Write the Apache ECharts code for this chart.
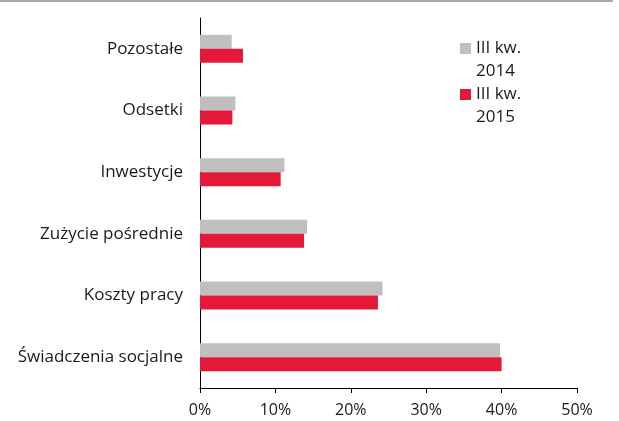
<!DOCTYPE html>
<html><head><meta charset="utf-8">
<script src="https://cdn.jsdelivr.net/npm/echarts@6/dist/echarts.min.js"></script>
<style>html,body{margin:0;padding:0;background:#fff}#c{width:619px;height:421px}</style>
</head><body><div id="c"></div>
<script>
const categories = ['Pozostałe', 'Odsetki', 'Inwestycje', 'Zużycie pośrednie', 'Koszty pracy', 'Świadczenia socjalne'];
const series2014 = [4.2, 4.7, 11.2, 14.2, 24.2, 39.8];
const series2015 = [5.7, 4.3, 10.7, 13.8, 23.6, 40.0];
const seriesNames = ['III kw.\n2014', 'III kw.\n2015'];
const xTicks = [0, 10, 20, 30, 40, 50];

const font = '"Open Sans", sans-serif';
const legendIcon = 'path://M0,0h11v11h-11zM0,33.99h0.01v0.01h-0.01z';
const chart = echarts.init(document.getElementById('c'));
chart.setOption({
  animation: false,
  graphic: [{type: 'rect', shape: {x: 0, y: 0, width: 613, height: 2}, style: {fill: '#aaaaaa'}}],
  legend: {
    orient: 'vertical', left: 455, top: 32, itemWidth: 11, itemHeight: 34, itemGap: 0,
    icon: legendIcon,
    textStyle: {fontFamily: font, fontSize: 17, color: '#1a1a1a', lineHeight: 23}
  },
  grid: {left: 200, right: 42, top: 18, bottom: 33, containLabel: false},
  xAxis: {
    type: 'value', min: xTicks[0], max: xTicks[xTicks.length - 1], interval: 10,
    axisLine: {show: true, lineStyle: {color: '#000', width: 1}},
    axisTick: {show: true, length: 5, lineStyle: {color: '#000'}},
    splitLine: {show: false},
    axisLabel: {formatter: '{value}%', margin: 14, fontFamily: font, fontSize: 16, color: '#1a1a1a'}
  },
  yAxis: {
    type: 'category', data: categories, inverse: true,
    axisLine: {show: true, lineStyle: {color: '#000', width: 1}},
    axisTick: {show: false},
    axisLabel: {margin: 17, fontFamily: font, fontSize: 17, color: '#1a1a1a'}
  },
  series: [
    {name: seriesNames[0], type: 'bar', data: series2014, barWidth: 14, barGap: '0%', itemStyle: {color: '#bfbfbf'}},
    {name: seriesNames[1], type: 'bar', data: series2015, barWidth: 14, barGap: '0%', itemStyle: {color: '#e4193a'}}
  ]
});
</script></body></html>
